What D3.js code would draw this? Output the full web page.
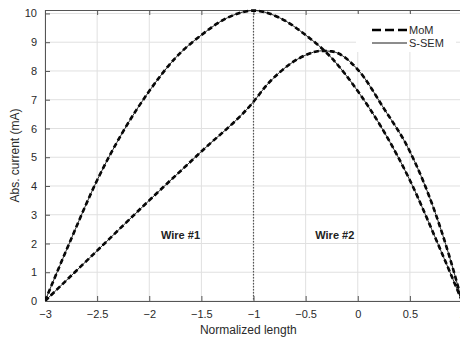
<!DOCTYPE html>
<html>
<head>
<meta charset="utf-8">
<script src="https://cdn.jsdelivr.net/npm/d3@7"></script>
<style>
  body { margin: 0; background: #fff; }
  text { font-family: "Liberation Sans", Arial, sans-serif; }
</style>
</head>
<body>
<div id="chart"></div>
<script>
// Data
const xTicks = [-3, -2.5, -2, -1.5, -1, -0.5, 0, 0.5, 1];
const yTicks = [0, 1, 2, 3, 4, 5, 6, 7, 8, 9, 10];

// curve peaking at the junction (x = -1)
const upperX = [-3, -2.75, -2.5, -2.25, -2, -1.75, -1.5, -1.25, -1, -0.75, -0.5, -0.25, 0, 0.25, 0.5, 0.75, 1];
const upperY = [0, 2.15, 4.2, 5.9, 7.3, 8.45, 9.25, 9.85, 10.1, 9.85, 9.25, 8.45, 7.3, 5.9, 4.2, 2.15, 0];

// curve linear along wire #1, peaking on wire #2
const lowerX = [-3, -2.5, -2, -1.5, -1, -0.875, -0.75, -0.5, -0.35, -0.25, 0, 0.25, 0.5, 0.75, 0.875, 1];
const lowerY = [0, 1.75, 3.5, 5.2, 6.93, 7.5, 7.95, 8.55, 8.7, 8.68, 8.05, 6.7, 5.2, 3.0, 1.6, 0];

const seriesNames = ["MoM", "S-SEM"];

const margin = { top: 10, right: -2, bottom: 42, left: 45 };
const W = 460, H = 343;
const width = W - margin.left - margin.right;
const height = H - margin.top - margin.bottom;

const svg = d3.select("#chart").append("svg")
  .attr("width", W).attr("height", H);

const g = svg.append("g")
  .attr("transform", `translate(${margin.left},${margin.top})`);

const x = d3.scaleLinear().domain([-3, 1]).range([0, width]);
const y = d3.scaleLinear().domain([0, 10.12]).range([height, 0]);

// grid
g.append("g").selectAll("line").data(xTicks).enter().append("line")
  .attr("x1", d => x(d)).attr("x2", d => x(d))
  .attr("y1", 0).attr("y2", height)
  .attr("stroke", "#e0e0e0").attr("stroke-width", 1);
g.append("g").selectAll("line").data(yTicks).enter().append("line")
  .attr("x1", 0).attr("x2", width)
  .attr("y1", d => y(d)).attr("y2", d => y(d))
  .attr("stroke", "#e0e0e0").attr("stroke-width", 1);

// axes (MATLAB style: inward ticks, box)
const axisColor = "#555";
const xAxis = g.append("g").attr("transform", `translate(0,${height})`)
  .call(d3.axisBottom(x).tickValues(xTicks).tickSize(-5).tickPadding(9).tickFormat(d3.format("")));
const xTop = g.append("g")
  .call(d3.axisTop(x).tickValues(xTicks).tickSize(-5).tickFormat(""));
const yAxis = g.append("g")
  .call(d3.axisLeft(y).tickValues(yTicks).tickSize(-5).tickPadding(8));
[xAxis, xTop, yAxis].forEach(a => {
  a.select(".domain").attr("stroke", axisColor);
  a.selectAll(".tick line").attr("stroke", axisColor);
  a.selectAll("text").attr("fill", "#2a2a2a").style("font-size", "11px")
    .style("font-family", "'Liberation Sans', Arial, sans-serif");
});

// junction marker
g.append("line")
  .attr("x1", x(-1)).attr("x2", x(-1))
  .attr("y1", 0).attr("y2", height)
  .attr("stroke", "#555").attr("stroke-width", 1.2)
  .attr("stroke-dasharray", "1.5,1.5");

// curves
g.append("clipPath").attr("id", "clip").append("rect")
  .attr("x", 0).attr("y", -3).attr("width", width).attr("height", height + 3);

const line = d3.line().x(d => x(d[0])).y(d => y(d[1])).curve(d3.curveMonotoneX);
const upper = upperX.map((v, i) => [v, upperY[i]]);
const lower = lowerX.map((v, i) => [v, lowerY[i]]);

const plot = g.append("g").attr("clip-path", "url(#clip)");
// MoM: thick dashed
[upper, lower].forEach(d => {
  plot.append("path").datum(d).attr("d", line)
    .attr("fill", "none").attr("stroke", "#000")
    .attr("stroke-width", 2.6).attr("stroke-dasharray", "5,3");
});
// S-SEM: thin solid on top
[upper, lower].forEach(d => {
  plot.append("path").datum(d).attr("d", line)
    .attr("fill", "none").attr("stroke", "#111")
    .attr("stroke-width", 0.9);
});

// wire labels
g.append("text").attr("x", x(-1.7)).attr("y", y(2.3)).attr("dy", "0.35em")
  .attr("text-anchor", "middle").style("font-size", "11px").style("font-weight", "bold")
  .attr("fill", "#222").text("Wire #1");
g.append("text").attr("x", x(-0.22)).attr("y", y(2.3)).attr("dy", "0.35em")
  .attr("text-anchor", "middle").style("font-size", "11px").style("font-weight", "bold")
  .attr("fill", "#222").text("Wire #2");

// legend
const legend = svg.append("g").attr("transform", "translate(356,14)");
legend.append("rect").attr("x", 0).attr("y", 0).attr("width", 100).attr("height", 38)
  .attr("fill", "#fff");
seriesNames.forEach((name, i) => {
  const row = legend.append("g").attr("transform", `translate(0,${16 + i * 13})`);
  row.append("line").attr("x1", 16).attr("x2", 51).attr("y1", 0).attr("y2", 0)
    .attr("stroke", "#000")
    .attr("stroke-width", i === 0 ? 2.6 : 0.9)
    .attr("stroke-dasharray", i === 0 ? "9,4" : null);
  row.append("text").attr("x", 53).attr("y", 0).attr("dy", "0.35em")
    .style("font-size", "11px").attr("fill", "#2a2a2a").text(name);
});

// axis labels
svg.append("text").attr("x", margin.left + x(-1.05)).attr("y", 334)
  .attr("text-anchor", "middle").style("font-size", "12px").attr("fill", "#2a2a2a")
  .text("Normalized length");
svg.append("text")
  .attr("transform", `translate(19,${margin.top + height / 2}) rotate(-90)`)
  .attr("text-anchor", "middle").style("font-size", "12px").attr("fill", "#2a2a2a")
  .text("Abs. current (mA)");
</script>
</body>
</html>
